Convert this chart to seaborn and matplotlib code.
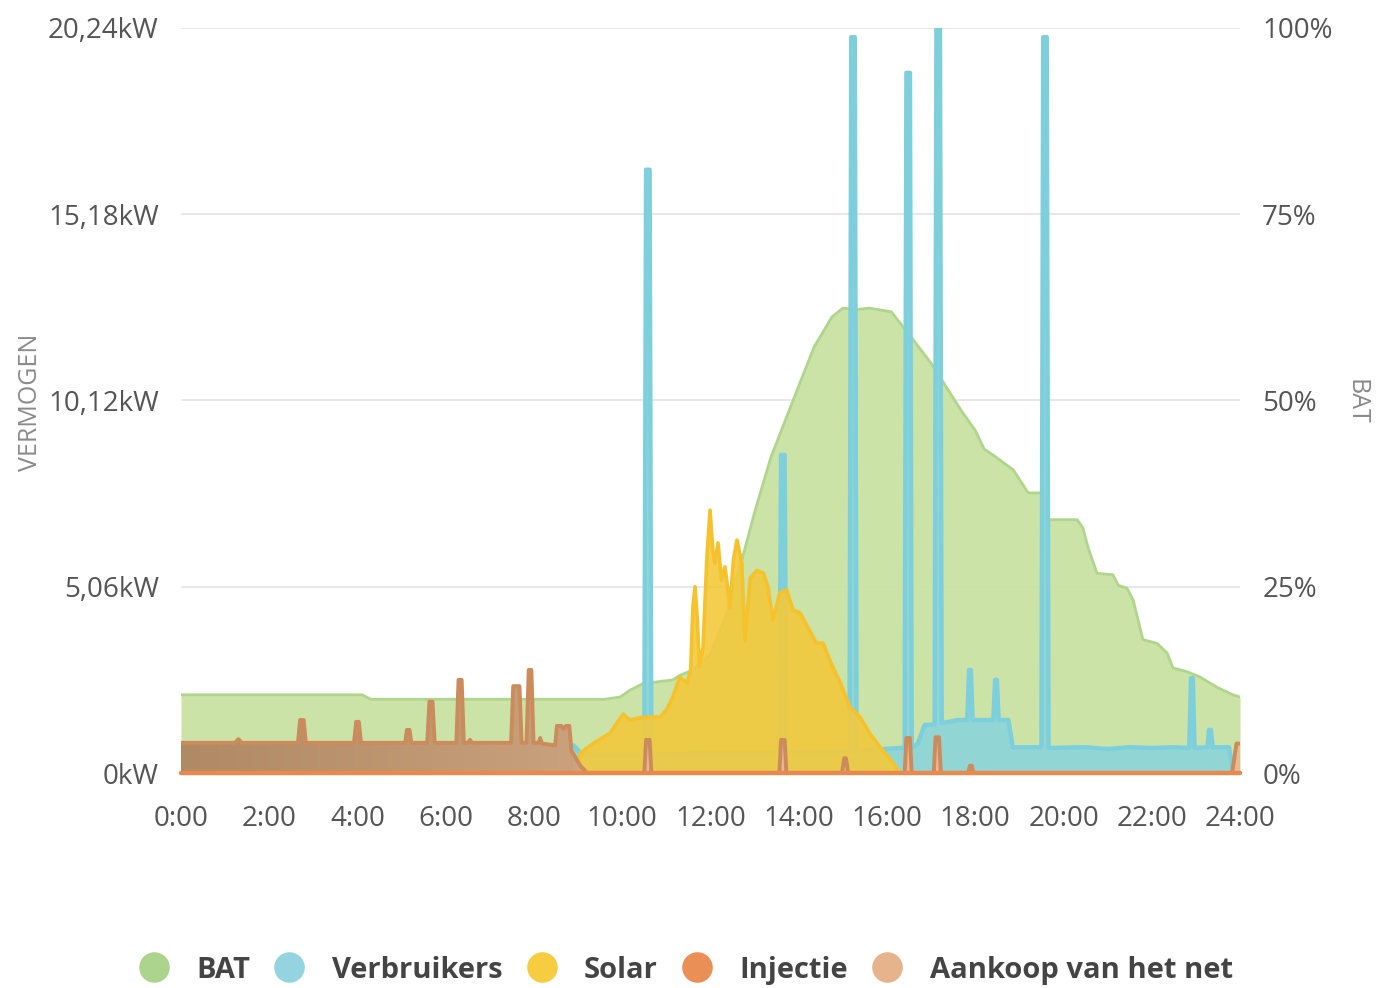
import numpy as np
import matplotlib
matplotlib.use("Agg")
import matplotlib.pyplot as plt
import seaborn as sns
from matplotlib.colors import LinearSegmentedColormap
from matplotlib.lines import Line2D

# ---------------- data ----------------
X_TICKS = list(range(0, 25, 2))
X_LABELS = ["0:00", "2:00", "4:00", "6:00", "8:00", "10:00", "12:00", "14:00",
            "16:00", "18:00", "20:00", "22:00", "24:00"]
KW_TICKS = [0, 5.06, 10.12, 15.18, 20.24]
KW_LABELS = ["0kW", "5,06kW", "10,12kW", "15,18kW", "20,24kW"]
PCT_TICKS = [0, 25, 50, 75, 100]
PCT_LABELS = ["0%", "25%", "50%", "75%", "100%"]

SERIES = ["BAT", "Verbruikers", "Solar", "Injectie", "Aankoop van het net"]

# BAT state of charge (%)
BAT_T = [0, 4.1, 4.3, 9.6, 9.95, 10.17, 10.47, 11.15, 11.3, 11.6, 12.0, 12.35, 12.55,
         12.73, 13.0, 13.37, 13.87, 14.35, 14.75, 15.0, 15.3, 15.6, 16.1, 16.35, 16.6,
         17.0, 17.43, 17.7, 18.0, 18.2, 18.47, 18.65, 18.86, 19.08, 19.2, 19.55, 19.62,
         20.31, 20.44, 20.56, 20.76, 21.12, 21.24, 21.44, 21.58, 21.8, 22.12, 22.35,
         22.48, 22.8, 23.09, 23.48, 23.84, 24.0]
BAT_V = [10.5, 10.5, 9.9, 9.9, 10.2, 11.1, 12.0, 12.5, 13.1, 13.8, 16.0, 21.0, 25.5,
         29.0, 35.0, 42.4, 50.0, 57.2, 61.2, 62.4, 62.2, 62.4, 61.9, 60.0, 58.1,
         55.0, 51.0, 48.5, 46.0, 43.5, 42.4, 41.6, 40.7, 38.7, 37.6, 37.6, 34.0,
         34.0, 32.9, 30.2, 26.8, 26.6, 25.2, 24.8, 23.2, 17.9, 17.4, 16.1,
         14.1, 13.6, 12.9, 11.5, 10.5, 10.2]

# Verbruikers (kW)
VB_T = [0, 8.9, 9.05, 9.4, 10.50, 10.54, 10.62, 10.66, 12.0, 13.56, 13.60, 13.68, 13.72,
        15.15, 15.19, 15.27, 15.31, 16.3, 16.40, 16.44, 16.52, 16.56, 16.7, 16.85,
        17.08, 17.12, 17.20, 17.24, 17.6, 17.82, 17.86, 17.90, 17.94, 18.41, 18.45,
        18.49, 18.53, 18.75, 18.85, 19.3, 19.50, 19.54, 19.62, 19.66, 20.5, 21.0,
        21.5, 22.0, 22.5, 22.85, 22.89, 22.93, 22.97, 23.26, 23.30, 23.34, 23.38,
        23.75, 23.85, 24.0]
VB_V = [0.75, 0.75, 0.55, 0.5, 0.5, 16.39, 16.39, 0.5, 0.55, 0.55, 8.64, 8.64, 0.55,
        0.6, 19.99, 19.99, 0.6, 0.68, 0.68, 19.02, 19.02, 0.68, 0.8, 1.3,
        1.32, 20.24, 20.24, 1.35, 1.44, 1.44, 2.8, 2.8, 1.44, 1.44, 2.53,
        2.53, 1.44, 1.44, 0.7, 0.7, 0.7, 19.99, 19.99, 0.68, 0.7, 0.65,
        0.7, 0.68, 0.7, 0.68, 2.58, 2.58, 0.68, 0.7, 1.17, 1.17, 0.7,
        0.7, 0.0, 0.0]

# Solar (kW)
SOL_T = [8.95, 9.05, 9.34, 9.72, 10.02, 10.17, 10.4, 10.63, 10.86, 11.0, 11.15, 11.3,
         11.47, 11.55, 11.6, 11.65, 11.7, 11.75, 11.83, 11.92, 11.99, 12.05, 12.1,
         12.17, 12.25, 12.33, 12.44, 12.52, 12.6, 12.71, 12.78, 12.9, 13.05, 13.2,
         13.3, 13.42, 13.57, 13.73, 13.87, 14.03, 14.2, 14.4, 14.55, 14.7, 14.94,
         15.16, 15.39, 15.6, 15.84, 16.14, 16.3]
SOL_V = [0.0, 0.54, 0.8, 1.08, 1.6, 1.44, 1.5, 1.52, 1.52, 1.71, 2.07, 2.6,
         2.45, 2.8, 4.5, 5.06, 4.2, 2.9, 3.4, 5.9, 7.14, 6.1, 5.7,
         6.25, 5.24, 5.6, 4.5, 5.8, 6.33, 5.7, 3.6, 5.3, 5.5, 5.43,
         5.06, 4.16, 4.9, 4.97, 4.43, 4.35, 3.97, 3.53, 3.53, 3.07, 2.45,
         1.79, 1.52, 1.09, 0.71, 0.27, 0.0]

# Injectie (kW)
INJ_T = [0, 24]
INJ_V = [0.0, 0.0]

# Aankoop van het net (kW)
AK_T = [0, 1.22, 1.30, 1.38, 2.65, 2.70, 2.78, 2.83, 3.92, 3.97, 4.03, 4.08,
        5.08, 5.12, 5.18, 5.22, 5.58, 5.63, 5.70, 5.75, 6.24, 6.29, 6.36, 6.41,
        6.50, 6.55, 6.60, 7.48, 7.53, 7.67, 7.72, 7.83, 7.88, 7.94, 7.99,
        8.10, 8.14, 8.18, 8.48, 8.52, 8.62, 8.67, 8.72, 8.80, 8.85, 9.05, 9.2,
        10.50, 10.54, 10.62, 10.66, 13.56, 13.60, 13.68, 13.72, 14.98, 15.03, 15.07,
        15.12, 16.40, 16.44, 16.52, 16.56, 17.06, 17.10, 17.18, 17.22, 17.84, 17.88,
        17.92, 17.96, 23.82, 23.92, 24.0]
AK_V = [0.82, 0.82, 0.92, 0.82, 0.82, 1.44, 1.44, 0.82, 0.82, 1.39, 1.39, 0.82,
        0.82, 1.17, 1.17, 0.82, 0.82, 1.94, 1.94, 0.82, 0.82, 2.53, 2.53, 0.82,
        0.82, 0.9, 0.82, 0.82, 2.36, 2.36, 0.82, 0.82, 2.8, 2.8, 0.82,
        0.82, 0.95, 0.8, 0.75, 1.28, 1.28, 1.2, 1.28, 1.28, 0.6, 0.2, 0.0,
        0.0, 0.9, 0.9, 0.0, 0.0, 0.9, 0.9, 0.0, 0.0, 0.4, 0.4,
        0.0, 0.0, 0.95, 0.95, 0.0, 0.0, 0.97, 0.97, 0.0, 0.0, 0.2,
        0.2, 0.0, 0.0, 0.8, 0.8]

# ---------------- style ----------------
LEGEND_COLORS = ["#add48c", "#93d4e0", "#f6cc40", "#ea8f55", "#e6b48c"]

sns.set_style("white")
plt.rcParams['font.family'] = ['Open Sans', 'DejaVu Sans']

W, H = 1376, 988
fig = plt.figure(figsize=(W / 100, H / 100), dpi=100)
L, R, T, B = 181, 1240, 28, 773
ax = fig.add_axes([L / W, 1 - B / H, (R - L) / W, (B - T) / H])
ax2 = ax.twinx()
ax.set_zorder(2)
ax2.set_zorder(1)
ax.patch.set_visible(False)

# --- BAT on right axis (behind) ---
ax2.set_ylim(0, 100)
ax2.set_yticks(PCT_TICKS)
ax2.set_yticklabels(PCT_LABELS)
ax2.yaxis.grid(True, color="#e4e4ee", lw=1.3)
ax2.set_axisbelow(True)
ax2.fill_between(BAT_T, BAT_V, 0, color="#c9e2a2", alpha=0.95, lw=0, zorder=2)
sns.lineplot(x=BAT_T, y=BAT_V, ax=ax2, color="#b0d68d", lw=2, estimator=None,
             sort=False, zorder=3)

# --- kW series on left axis ---
ax.fill_between(VB_T, VB_V, 0, color="#8ed6d8", alpha=0.95, lw=0, zorder=2)
sns.lineplot(x=VB_T, y=VB_V, ax=ax, color="#7dcfdc", lw=3.2, estimator=None,
             sort=False, zorder=2.1)

ax.fill_between(SOL_T, SOL_V, 0, color="#f3c93c", alpha=0.9, lw=0, zorder=3)
sns.lineplot(x=SOL_T, y=SOL_V, ax=ax, color="#f5c22c", lw=2.6, estimator=None,
             sort=False, zorder=3.1)

poly = ax.fill_between(AK_T, AK_V, 0, color="none", lw=0, zorder=4)
cmap = LinearSegmentedColormap.from_list(
    "ak", [(0, "#b08a64"), (0.37, "#c9a17c"), (0.40, "#e9b793"), (1, "#ebb994")])
im = ax.imshow(np.linspace(0, 1, 512)[None, :], extent=[0, 24, 0, 20.24],
               aspect="auto", cmap=cmap, zorder=4, origin="lower")
im.set_clip_path(poly.get_paths()[0], transform=ax.transData)
sns.lineplot(x=AK_T, y=AK_V, ax=ax, color="#cb8b5a", lw=2.8, estimator=None,
             sort=False, zorder=4.1)

sns.lineplot(x=INJ_T, y=INJ_V, ax=ax, color="#e8894f", lw=3.2, estimator=None,
             sort=False, zorder=5, clip_on=False)

ax.set_xlim(0, 24)
ax.set_ylim(0, 20.24)
ax2.set_xlim(0, 24)
ax.set_yticks(KW_TICKS)
ax.set_yticklabels(KW_LABELS)
ax.set_xticks(X_TICKS)
ax.set_xticklabels(X_LABELS)
ax.set_xlabel("")
ax.set_ylabel("")
ax2.set_ylabel("")

ax.tick_params(axis="x", length=10, width=1.3, color="#ccd6eb", pad=13,
               labelsize=20, labelcolor="#555555", direction="out")
ax.tick_params(axis="y", length=0, pad=16, labelsize=20, labelcolor="#555555")
ax2.tick_params(axis="y", length=0, pad=16, labelsize=20, labelcolor="#555555")

for s in ["top", "right", "left"]:
    ax.spines[s].set_visible(False)
ax.spines["bottom"].set_color("#ccd6eb")
for s in ax2.spines.values():
    s.set_visible(False)

fig.text(31 / W, 1 - 402 / H, "VERMOGEN", rotation=90, fontsize=18, color="#8a8a8a",
         ha="center", va="center")
fig.text(1356 / W, 1 - 402 / H, "BAT", rotation=270, fontsize=18, color="#8a8a8a",
         ha="center", va="center")

handles = [Line2D([], [], marker="o", ls="", markersize=22, markerfacecolor=c,
                  markeredgecolor="none") for c in LEGEND_COLORS]
leg = fig.legend(handles, SERIES, loc="center", bbox_to_anchor=(0.4985, 1 - 970 / H),
                 ncol=5, frameon=False, prop=dict(weight="bold", size=21),
                 labelcolor="#444444", handletextpad=0.95, columnspacing=0.85,
                 handlelength=1.0)

fig.savefig("out.png", dpi=100, facecolor="white")
